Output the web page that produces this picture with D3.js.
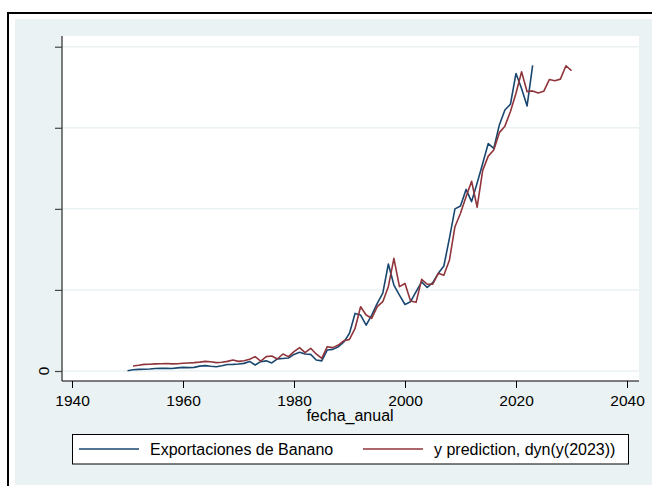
<!DOCTYPE html>
<html>
<head>
<meta charset="utf-8">
<script src="https://cdn.jsdelivr.net/npm/d3@7"></script>
<style>
  body { margin: 0; background: #fff; }
  text { font-family: "Liberation Sans", Arial, sans-serif; }
</style>
</head>
<body>
<svg id="chart" width="652" height="486"></svg>
<script>
// actual exports (blue), 1950-2023
const actualYears = d3.range(1950, 2024);
const actualVals = [
  4, 15, 20, 22, 25, 30, 32, 32, 30, 38,
  45, 42, 45, 60, 66, 58, 53, 65, 80, 82,
  86, 94, 118, 74, 115, 125, 100, 150, 155, 160,
  205, 230, 210, 205, 135, 125, 260, 267, 300, 360,
  465, 710, 690, 565, 690, 835, 960, 1320, 1060, 935,
  820, 855, 980, 1100, 1030, 1090, 1205, 1295, 1635, 2000,
  2035, 2240, 2090, 2320, 2560, 2805, 2745, 3035, 3220, 3290,
  3670, 3485, 3270, 3770
];
// dynamic prediction (red), 1951-2030
const predYears = d3.range(1951, 2031);
const predVals = [
  62, 70, 82, 84, 88, 90, 92, 88, 90,
  95, 99, 103, 110, 119, 115, 103, 108, 119, 136,
  119, 127, 144, 177, 123, 177, 185, 148, 210, 177,
  238, 288, 226, 280, 210, 156, 300, 288, 320, 374,
  390, 525, 793, 690, 650, 793, 855, 1040, 1390, 1040,
  1080, 863, 847, 1130, 1070, 1070, 1205, 1180, 1365, 1780,
  1945, 2150, 2340, 2020, 2475, 2650, 2725, 2940, 3020, 3200,
  3425, 3690, 3445, 3455, 3430, 3450, 3595, 3580, 3600, 3765,
  3705
];
const xTicks = [1940, 1960, 1980, 2000, 2020, 2040];
const yTicks = [0, 1000, 2000, 3000, 4000];
const seriesNames = ["Exportaciones de Banano", "y prediction, dyn(y(2023))"];
const seriesColors = ["#1a476f", "#90353b"];

const svg = d3.select("#chart");

// outer frame
svg.append("rect").attr("x", 8).attr("y", 13).attr("width", 660).attr("height", 490)
  .attr("fill", "#fff").attr("stroke", "#000").attr("stroke-width", 2);
svg.append("rect").attr("x", 15).attr("y", 19).attr("width", 640).attr("height", 466)
  .attr("fill", "#eaf2f3");

const plot = { left: 62, right: 639, top: 36, bottom: 381 };
svg.append("rect").attr("x", plot.left).attr("y", plot.top)
  .attr("width", plot.right - plot.left).attr("height", plot.bottom - plot.top)
  .attr("fill", "#fff");

const x = d3.scaleLinear().domain([1940, 2040]).range([72, 627]);
const y = d3.scaleLinear().domain([0, 4000]).range([371, 46.7]);

// grid
svg.append("g").selectAll("line").data(yTicks).join("line")
  .attr("x1", plot.left).attr("x2", plot.right)
  .attr("y1", d => y(d)).attr("y2", d => y(d))
  .attr("stroke", "#eaf2f3").attr("stroke-width", 1.5);

// y axis
const yAxis = svg.append("g").attr("transform", `translate(${plot.left},0)`)
  .call(d3.axisLeft(y).tickValues(yTicks).tickSize(7).tickFormat(""));
yAxis.select(".domain").attr("d", `M0,${plot.top}V${plot.bottom}`).attr("stroke", "#000");
yAxis.selectAll(".tick line").attr("stroke", "#444").attr("stroke-width", 1.2);
svg.append("text").attr("transform", `translate(49,${y(0)}) rotate(-90)`)
  .attr("text-anchor", "middle").attr("font-size", 15.5).text("0");

// x axis
const xAxis = svg.append("g").attr("transform", `translate(0,${plot.bottom})`)
  .call(d3.axisBottom(x).tickValues(xTicks).tickSize(7).tickFormat(d3.format("d")));
xAxis.select(".domain").attr("d", `M${plot.left},0H${plot.right}`).attr("stroke", "#000");
xAxis.selectAll(".tick line").attr("stroke", "#000");
xAxis.selectAll(".tick text").attr("font-size", 15.5).attr("fill", "#000")
  .attr("dy", null).attr("y", 25);
svg.append("text").attr("x", 350).attr("y", 421).attr("text-anchor", "middle")
  .attr("font-size", 16).text("fecha_anual");

// lines
const line = d3.line().x(d => x(d[0])).y(d => y(d[1]));
const series = [
  d3.zip(actualYears, actualVals),
  d3.zip(predYears, predVals)
];
series.forEach((s, i) => {
  svg.append("path").datum(s)
    .attr("fill", "none").attr("stroke", seriesColors[i])
    .attr("stroke-width", 1.6).attr("stroke-linejoin", "round")
    .attr("d", line);
});

// legend
svg.append("rect").attr("x", 72.5).attr("y", 434.5).attr("width", 556).attr("height", 29.5)
  .attr("fill", "#fff").attr("stroke", "#000").attr("stroke-width", 1);
const legendX = [79, 363];
seriesNames.forEach((name, i) => {
  svg.append("line").attr("x1", legendX[i]).attr("x2", legendX[i] + 60)
    .attr("y1", 449).attr("y2", 449)
    .attr("stroke", seriesColors[i]).attr("stroke-width", 1.6);
  svg.append("text").attr("x", legendX[i] + 71).attr("y", 455)
    .attr("font-size", 16).text(name);
});
</script>
</body>
</html>
